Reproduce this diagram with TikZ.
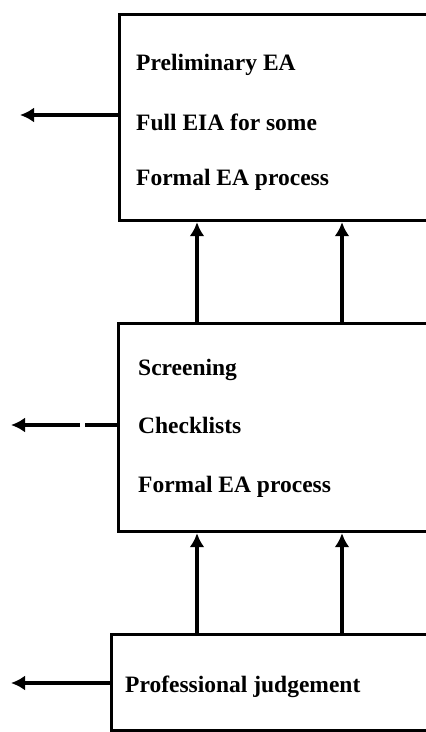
\documentclass[tikz,border=0pt]{standalone}
\usepackage{fontspec}
\setmainfont{Liberation Serif}
\usetikzlibrary{arrows.meta}
\begin{document}
\begin{tikzpicture}[x=1pt,y=-1pt,
  stagebox/.style={draw,line width=3.2pt,anchor=north west,inner sep=0pt,
    minimum width=340pt},
  lbl/.style={anchor=base west,inner sep=0pt,font=\fontsize{23.5}{26}\selectfont\bfseries},
  flow/.style={line width=3.2pt,-{Latex[length=14pt,width=15pt]}}]
\useasboundingbox (0,0) rectangle (426,732);
\clip (0,0) rectangle (426,732);

% stage boxes (running off the right edge)
\node[stagebox,minimum height=206pt] (top) at (118,13) {};
\node[stagebox,minimum height=208pt] (mid) at (117,322) {};
\node[stagebox,minimum height=96pt] (low) at (110,633) {};

% texts
\node[lbl] (t1) at (136,70) {Preliminary EA};
\node[lbl] (t2) at (136,130) {Full EIA for some};
\node[lbl] (t3) at (136,185) {Formal EA process};
\node[lbl] (m1) at (138,375) {Screening};
\node[lbl] (m2) at (138,433) {Checklists};
\node[lbl] (m3) at (138,492) {Formal EA process};
\node[lbl] (l1) at (125,692) {Professional judgement};

% x positions of the upward connectors
\coordinate (ca) at (197,0);
\coordinate (cb) at (342,0);

% upward connectors between stages
\draw[flow] (mid.north -| ca) -- (top.south -| ca);
\draw[flow] (mid.north -| cb) -- (top.south -| cb);
\draw[flow] (low.north -| ca) -- (mid.south -| ca);
\draw[flow] (low.north -| cb) -- (mid.south -| cb);

% outgoing connectors to the left
\coordinate (oa) at (20,115);
\coordinate (ob) at (11,425);
\coordinate (oc) at (11,683);
\coordinate (gap1) at (85,425);
\coordinate (gap2) at (80,425);
\draw[flow] (top.west |- oa) -- (oa);
\draw[line width=3.2pt] (mid.west |- ob) -- (gap1);
\draw[flow] (gap2) -- (ob);
\draw[flow] (low.west |- oc) -- (oc);
\end{tikzpicture}
\end{document}
